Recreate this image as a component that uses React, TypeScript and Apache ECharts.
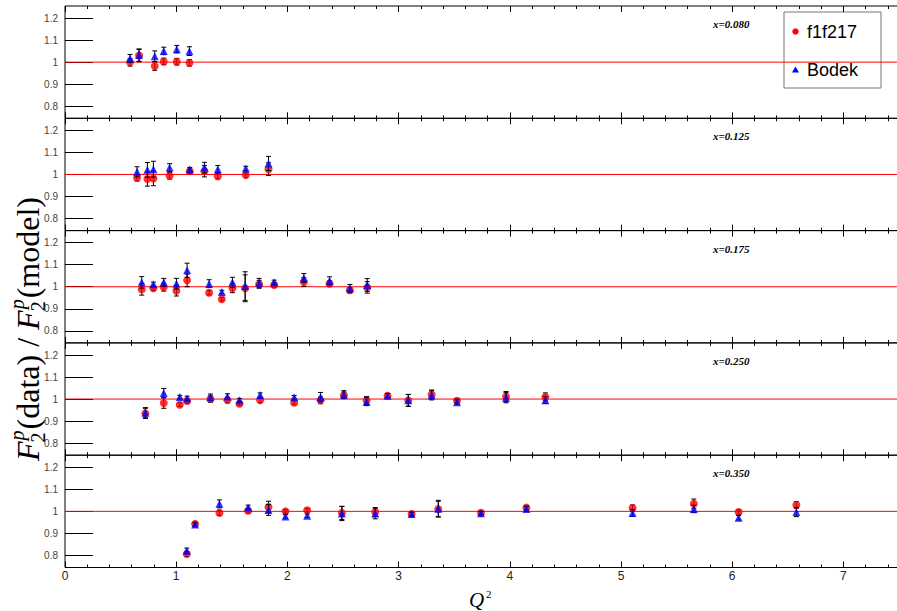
import React, { useEffect, useRef } from 'react';
import * as echarts from 'echarts';

// ---- Data ----
const panelLabels = ['x=0.080', 'x=0.125', 'x=0.175', 'x=0.250', 'x=0.350'];
const xTickValues = [0, 1, 2, 3, 4, 5, 6, 7];
const yTickValues = [0.8, 0.9, 1.0, 1.1, 1.2];

const q2_080 = [0.585, 0.666, 0.807, 0.888, 1.005, 1.119];
const f1f217_080 = [0.999, 1.030, 0.982, 1.003, 1.002, 0.997];
const f1f217Err_080 = [0.017, 0.028, 0.019, 0.015, 0.015, 0.015];
const bodek_080 = [1.017, 1.032, 1.027, 1.051, 1.059, 1.050];
const bodekErr_080 = [0.018, 0.028, 0.024, 0.017, 0.017, 0.02];

const q2_125 = [0.648, 0.741, 0.795, 0.941, 1.122, 1.254, 1.374, 1.626, 1.830];
const f1f217_125 = [0.985, 0.979, 0.982, 0.994, 1.015, 1.015, 0.992, 0.997, 1.024];
const f1f217Err_125 = [0.015, 0.032, 0.033, 0.015, 0.01, 0.026, 0.012, 0.01, 0.029];
const bodek_125 = [1.012, 1.021, 1.024, 1.031, 1.022, 1.031, 1.024, 1.027, 1.050];
const bodekErr_125 = [0.023, 0.033, 0.036, 0.018, 0.01, 0.024, 0.017, 0.01, 0.032];

const q2_175 = [0.69, 0.795, 0.888, 1.002, 1.098, 1.296, 1.41, 1.506, 1.62, 1.746, 1.881, 2.148, 2.379, 2.562, 2.718];
const f1f217_175 = [0.988, 0.993, 0.998, 0.982, 1.029, 0.973, 0.943, 0.993, 0.993, 1.011, 1.008, 1.021, 1.014, 0.984, 0.997];
const f1f217Err_175 = [0.026, 0.01, 0.018, 0.024, 0.029, 0.01, 0.008, 0.02, 0.061, 0.018, 0.01, 0.02, 0.012, 0.012, 0.026];
const bodek_175 = [1.020, 1.011, 1.020, 1.014, 1.075, 1.014, 0.976, 1.020, 1.003, 1.018, 1.020, 1.040, 1.027, 0.993, 1.008];
const bodekErr_175 = [0.026, 0.01, 0.018, 0.024, 0.032, 0.018, 0.008, 0.023, 0.065, 0.02, 0.01, 0.02, 0.018, 0.017, 0.029];

const q2_250 = [0.723, 0.888, 1.032, 1.098, 1.308, 1.461, 1.569, 1.755, 2.061, 2.298, 2.508, 2.712, 2.901, 3.087, 3.297, 3.525, 3.966, 4.32];
const f1f217_250 = [0.935, 0.982, 0.974, 0.991, 1.000, 0.995, 0.979, 0.994, 0.983, 0.994, 1.017, 0.994, 1.015, 0.994, 1.021, 0.992, 1.011, 1.010];
const f1f217Err_250 = [0.023, 0.024, 0.008, 0.01, 0.015, 0.012, 0.008, 0.01, 0.008, 0.015, 0.015, 0.018, 0.01, 0.027, 0.02, 0.01, 0.023, 0.018];
const bodek_250 = [0.938, 1.027, 1.009, 1.003, 1.008, 1.012, 0.995, 1.018, 1.008, 1.009, 1.021, 0.988, 1.015, 0.994, 1.017, 0.986, 1.006, 0.995];
const bodekErr_250 = [0.023, 0.021, 0.008, 0.01, 0.015, 0.012, 0.008, 0.01, 0.008, 0.021, 0.017, 0.018, 0.01, 0.027, 0.021, 0.01, 0.023, 0.015];

const q2_350 = [1.095, 1.17, 1.389, 1.647, 1.83, 1.983, 2.178, 2.49, 2.79, 3.117, 3.357, 3.741, 4.149, 5.104, 5.655, 6.058, 6.577];
const f1f217_350 = [0.806, 0.943, 0.993, 1.003, 1.020, 1.000, 1.005, 0.993, 0.997, 0.988, 1.011, 0.994, 1.017, 1.015, 1.035, 0.997, 1.029];
const f1f217Err_350 = [0.011, 0.008, 0.012, 0.01, 0.026, 0.008, 0.008, 0.03, 0.02, 0.008, 0.035, 0.008, 0.01, 0.014, 0.021, 0.01, 0.015];
const bodek_350 = [0.821, 0.940, 1.034, 1.018, 1.006, 0.977, 0.980, 0.990, 0.990, 0.988, 1.012, 0.991, 1.011, 0.993, 1.011, 0.971, 0.997];
const bodekErr_350 = [0.012, 0.008, 0.018, 0.01, 0.024, 0.008, 0.008, 0.032, 0.024, 0.008, 0.038, 0.008, 0.01, 0.015, 0.017, 0.01, 0.021];

const panels = [
  { label: panelLabels[0], q2: q2_080, red: f1f217_080, redErr: f1f217Err_080, blue: bodek_080, blueErr: bodekErr_080 },
  { label: panelLabels[1], q2: q2_125, red: f1f217_125, redErr: f1f217Err_125, blue: bodek_125, blueErr: bodekErr_125 },
  { label: panelLabels[2], q2: q2_175, red: f1f217_175, redErr: f1f217Err_175, blue: bodek_175, blueErr: bodekErr_175 },
  { label: panelLabels[3], q2: q2_250, red: f1f217_250, redErr: f1f217Err_250, blue: bodek_250, blueErr: bodekErr_250 },
  { label: panelLabels[4], q2: q2_350, red: f1f217_350, redErr: f1f217Err_350, blue: bodek_350, blueErr: bodekErr_350 },
];

// ---- Layout ----
const W = 897;
const H = 611;
const LEFT = 65;
const TOP = 6;
const PH = 112.3;
const SERIF = '"Liberation Serif", "Times New Roman", serif';
const SANS = '"Liberation Sans", Arial, sans-serif';

function errRender(params: any, api: any) {
  const x = api.value(0);
  const y = api.value(1);
  const e = api.value(2);
  const top = api.coord([x, y + e]);
  const bot = api.coord([x, y - e]);
  const cw = 2.5;
  const st = { stroke: '#000', lineWidth: 1 };
  return {
    type: 'group',
    children: [
      { type: 'line', shape: { x1: top[0], y1: top[1], x2: bot[0], y2: bot[1] }, style: st },
      { type: 'line', shape: { x1: top[0] - cw, y1: top[1], x2: top[0] + cw, y2: top[1] }, style: st },
      { type: 'line', shape: { x1: bot[0] - cw, y1: bot[1], x2: bot[0] + cw, y2: bot[1] }, style: st },
    ],
  };
}

function buildYTitle() {
  const canvas = document.createElement('canvas');
  const ctx = canvas.getContext('2d')!;
  const tw = (t: string, f: string) => {
    ctx.font = f;
    return ctx.measureText(t).width;
  };
  const big = 32;
  const sm = 20;
  const fMain = `${big}px ${SERIF}`;
  const fItal = `italic ${big}px ${SERIF}`;
  const fSm = `${sm}px ${SERIF}`;
  const fSmIt = `italic ${sm}px ${SERIF}`;
  const pieces: any[] = [];
  let x = 0;
  const addF = () => {
    pieces.push({ t: 'F', f: fItal, x, y: 0 });
    x += tw('F', fItal) + 1;
    pieces.push({ t: 'p', f: fSmIt, x, y: -11 });
    pieces.push({ t: '2', f: fSm, x: x - 2, y: 10 });
    x += Math.max(tw('p', fSmIt), tw('2', fSm)) + 1;
  };
  addF();
  pieces.push({ t: '(data) / ', f: fMain, x, y: 0 });
  x += tw('(data) / ', fMain);
  addF();
  pieces.push({ t: '(model)', f: fMain, x, y: 0 });
  x += tw('(model)', fMain);
  const total = x;
  return {
    type: 'group',
    x: 28,
    y: 329,
    rotation: Math.PI / 2,
    children: pieces.map((p) => ({
      type: 'text',
      x: p.x - total / 2,
      y: p.y,
      style: { text: p.t, font: p.f, fill: '#000', align: 'left', verticalAlign: 'middle' },
    })),
  };
}

export default function App() {
  const ref = useRef<HTMLDivElement>(null);

  useEffect(() => {
    if (!ref.current) return;
    const chart = echarts.init(ref.current, null, { renderer: 'svg' });

    const grids: any[] = [];
    const xAxes: any[] = [];
    const yAxes: any[] = [];
    const series: any[] = [];
    const graphics: any[] = [];

    panels.forEach((p, i) => {
      grids.push({
        left: LEFT,
        top: TOP + i * PH,
        width: 834,
        height: PH,
        show: true,
        borderColor: '#000',
        borderWidth: 1,
        backgroundColor: 'transparent',
        containLabel: false,
        outerBoundsMode: 'none',
      });
      const baseX = {
        gridIndex: i,
        type: 'value',
        min: 0,
        max: 7.5,
        interval: 1,
        axisLine: { show: false },
        splitLine: { show: false },
        minorSplitLine: { show: false },
        axisTick: { show: true, inside: true, length: 6, lineStyle: { color: '#000', width: 1 } },
        minorTick: { show: true, splitNumber: 5, length: 3, lineStyle: { color: '#000', width: 1 } },
      };
      xAxes.push({
        ...baseX,
        position: 'bottom',
        axisLabel: {
          show: i === panels.length - 1,
          customValues: xTickValues,
          fontSize: 12,
          fontFamily: SANS,
          color: '#222',
          margin: 2,
        },
      });
      xAxes.push({ ...baseX, position: 'top', axisLabel: { show: false } });
      yAxes.push({
        gridIndex: i,
        type: 'value',
        min: 0.745,
        max: 1.255,
        axisLine: { show: false },
        splitLine: { show: false },
        axisTick: { show: true, inside: true, length: 28, customValues: yTickValues, lineStyle: { color: '#000', width: 1 } },
        axisLabel: {
          customValues: yTickValues,
          formatter: (v: number) => String(Math.round(v * 10) / 10),
          fontSize: 10,
          fontFamily: SANS,
          color: '#444',
          margin: 7,
        },
      });
      const xi = 2 * i;
      series.push({
        type: 'line',
        xAxisIndex: xi,
        yAxisIndex: i,
        data: [[0, 1], [7.5, 1]],
        symbol: 'none',
        lineStyle: { color: '#ff0000', width: 1 },
        silent: true,
        z: 2,
      });
      series.push({
        type: 'custom',
        name: 'f1f217',
        xAxisIndex: xi,
        yAxisIndex: i,
        data: p.q2.map((q, k) => [q, p.red[k], p.redErr[k]]),
        encode: { x: 0, y: 1 },
        renderItem: errRender,
        z: 3,
      });
      series.push({
        type: 'scatter',
        name: 'f1f217',
        xAxisIndex: xi,
        yAxisIndex: i,
        data: p.q2.map((q, k) => [q, p.red[k]]),
        symbol: 'circle',
        symbolSize: 8,
        itemStyle: { color: '#ff0000' },
        z: 4,
      });
      series.push({
        type: 'custom',
        name: 'Bodek',
        xAxisIndex: xi,
        yAxisIndex: i,
        data: p.q2.map((q, k) => [q, p.blue[k], p.blueErr[k]]),
        encode: { x: 0, y: 1 },
        renderItem: errRender,
        z: 5,
      });
      series.push({
        type: 'scatter',
        name: 'Bodek',
        xAxisIndex: xi,
        yAxisIndex: i,
        data: p.q2.map((q, k) => [q, p.blue[k]]),
        symbol: 'triangle',
        symbolSize: 8,
        itemStyle: { color: '#0000ff' },
        z: 6,
      });
      graphics.push({
        type: 'text',
        x: 713,
        y: TOP + i * PH + 18,
        z: 20,
        style: {
          text: p.label,
          font: `italic bold 11px ${SERIF}`,
          fill: '#000',
          align: 'left',
          verticalAlign: 'middle',
        },
      });
    });

    // legend
    graphics.push({
      type: 'group',
      z: 30,
      children: [
        { type: 'rect', shape: { x: 784, y: 12, width: 97, height: 76 }, style: { fill: '#fff', stroke: '#777', lineWidth: 1 } },
        { type: 'circle', shape: { cx: 795.5, cy: 31.5, r: 3.2 }, style: { fill: '#ff0000' } },
        { type: 'text', x: 807, y: 32, style: { text: 'f1f217', font: `18px ${SANS}`, fill: '#000', verticalAlign: 'middle' } },
        { type: 'polygon', shape: { points: [[795.5, 66.5], [792, 72.5], [799, 72.5]] }, style: { fill: '#0000ff' } },
        { type: 'text', x: 807, y: 70, style: { text: 'Bodek', font: `18px ${SANS}`, fill: '#000', verticalAlign: 'middle' } },
      ],
    });

    // axis titles
    graphics.push(buildYTitle());
    graphics.push({
      type: 'text',
      x: 469,
      y: 600,
      style: { text: 'Q', font: `italic 21px ${SERIF}`, fill: '#000', verticalAlign: 'middle' },
    });
    graphics.push({
      type: 'text',
      x: 486,
      y: 594,
      style: { text: '2', font: `11px ${SERIF}`, fill: '#000', verticalAlign: 'middle' },
    });

    chart.setOption({
      animation: false,
      backgroundColor: '#fff',
      grid: grids,
      xAxis: xAxes,
      yAxis: yAxes,
      series,
      graphic: graphics,
    });

    return () => chart.dispose();
  }, []);

  return (
    <div
      ref={ref}
      style={{ position: 'absolute', left: 0, top: 0, width: W, height: H }}
    />
  );
}
